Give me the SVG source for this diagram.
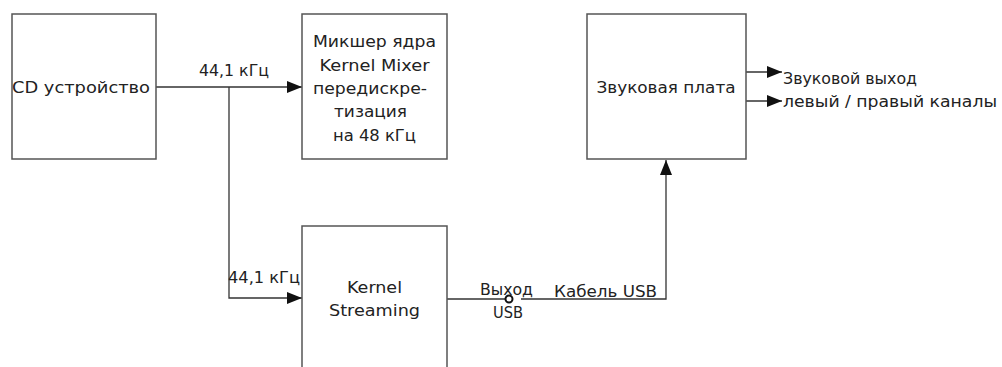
<svg xmlns="http://www.w3.org/2000/svg" width="1002" height="367" viewBox="0 0 1002 367">
<defs>
<marker id="arr" markerUnits="userSpaceOnUse" markerWidth="16" markerHeight="14" refX="15" refY="6" orient="auto">
<path d="M0,0 L15,6 L0,12 z" fill="#111"/>
</marker>
<style>
.box{fill:#fff;stroke:#555;stroke-width:1.5}
.ln{fill:none;stroke:#333;stroke-width:1.3}
text{font-family:"DejaVu Sans","Liberation Sans",sans-serif;font-size:16px;fill:#222}
.c{text-anchor:middle}
</style>
</defs>
<rect width="1002" height="367" fill="#fff"/>
<g id="connectors">
<path class="ln" d="M156,87 H302" marker-end="url(#arr)"/>
<path class="ln" d="M229,87 V298 H302" marker-end="url(#arr)"/>
<path class="ln" d="M447,299 H505"/>
<circle cx="509" cy="299" r="3.5" fill="#fff" stroke="#111" stroke-width="2"/>
<path class="ln" d="M521,299 H666 V160" marker-end="url(#arr)"/>
<path class="ln" d="M746,72 H782" marker-end="url(#arr)"/>
<path class="ln" d="M746,101 H782" marker-end="url(#arr)"/>
<text x="199" y="76" textLength="70" lengthAdjust="spacingAndGlyphs">44,1 кГц</text>
<text x="228" y="283" textLength="72" lengthAdjust="spacingAndGlyphs">44,1 кГц</text>
<text x="480" y="295" textLength="53" lengthAdjust="spacingAndGlyphs">Выход</text>
<text x="493" y="318" textLength="30" lengthAdjust="spacingAndGlyphs">USB</text>
<text x="554" y="297" textLength="103" lengthAdjust="spacingAndGlyphs">Кабель USB</text>
<text x="783" y="84" textLength="134" lengthAdjust="spacingAndGlyphs">Звуковой выход</text>
<text x="783" y="107" textLength="214" lengthAdjust="spacingAndGlyphs">левый / правый каналы</text>
</g>
<g id="cd">
<rect class="box" x="12" y="14" width="144" height="145"/>
<text x="12" y="93" textLength="138" lengthAdjust="spacingAndGlyphs">CD устройство</text>
</g>
<g id="mixer">
<rect class="box" x="302" y="14" width="145" height="145"/>
<text class="c" x="374.5" y="47" textLength="123" lengthAdjust="spacingAndGlyphs">Микшер ядра</text>
<text class="c" x="374.5" y="71" textLength="110" lengthAdjust="spacingAndGlyphs">Kernel Mixer</text>
<text class="c" x="370" y="94" textLength="114" lengthAdjust="spacingAndGlyphs">передискре-</text>
<text class="c" x="370.5" y="117" textLength="73" lengthAdjust="spacingAndGlyphs">тизация</text>
<text class="c" x="374.5" y="141" textLength="83" lengthAdjust="spacingAndGlyphs">на 48 кГц</text>
</g>
<g id="ks">
<rect class="box" x="302" y="226" width="145" height="160"/>
<text class="c" x="374.5" y="293" textLength="55" lengthAdjust="spacingAndGlyphs">Kernel</text>
<text class="c" x="374.5" y="316" textLength="91" lengthAdjust="spacingAndGlyphs">Streaming</text>
</g>
<g id="soundcard">
<rect class="box" x="587" y="14" width="159" height="145"/>
<text class="c" x="666" y="93" textLength="139" lengthAdjust="spacingAndGlyphs">Звуковая плата</text>
</g>
</svg>
